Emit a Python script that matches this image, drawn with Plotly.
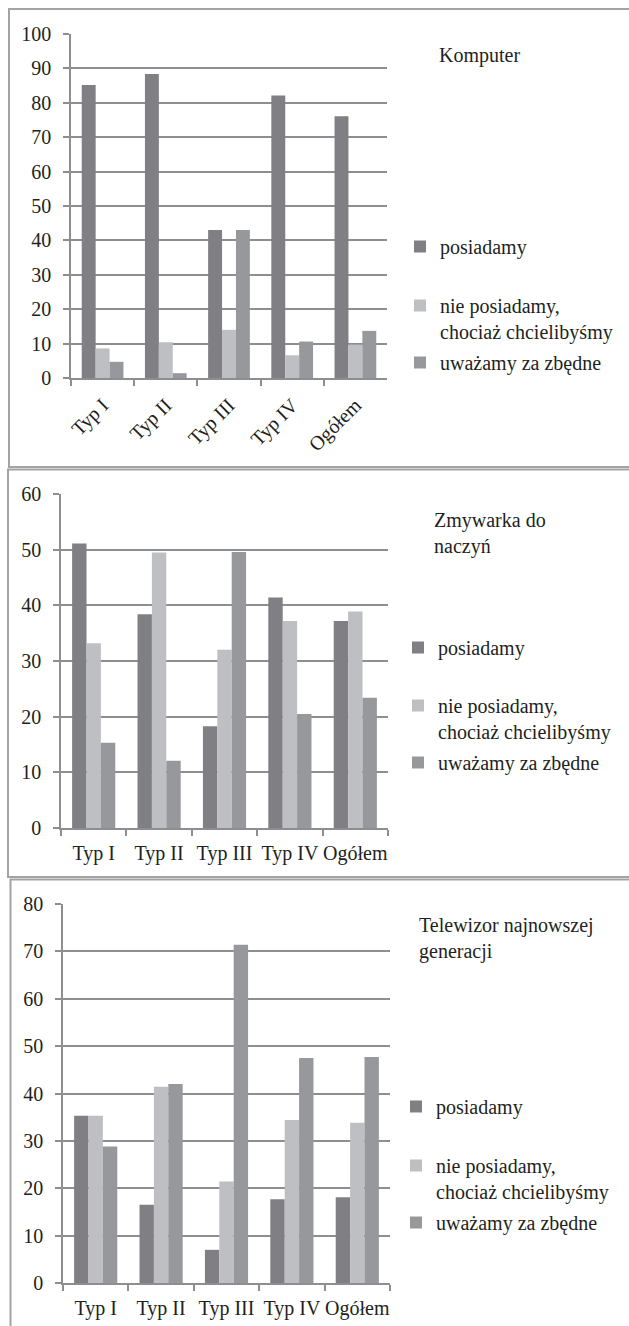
import plotly.graph_objects as go

W, H = 629, 1326

categories = ["Typ I", "Typ II", "Typ III", "Typ IV", "Ogółem"]
series_names = ["posiadamy", "nie posiadamy,<br>chociaż chcielibyśmy", "uważamy za zbędne"]
series_colors = ["#7f7f84", "#bebfc3", "#97989c"]

# Komputer
komp_posiadamy = [85.2, 88.4, 43.0, 82.1, 76.1]
komp_nie = [8.6, 10.4, 14.0, 6.6, 9.7]
komp_zbedne = [4.7, 1.4, 43.0, 10.6, 13.7]

# Zmywarka do naczyń
zmyw_posiadamy = [51.1, 38.4, 18.3, 41.4, 37.2]
zmyw_nie = [33.2, 49.5, 32.0, 37.2, 38.9]
zmyw_zbedne = [15.3, 12.1, 49.6, 20.5, 23.4]

# Telewizor najnowszej generacji
tv_posiadamy = [35.3, 16.5, 7.0, 17.7, 18.1]
tv_nie = [35.3, 41.4, 21.4, 34.4, 33.8]
tv_zbedne = [28.8, 42.0, 71.4, 47.5, 47.7]

titles = ["Komputer", "Zmywarka do<br>naczyń", "Telewizor najnowszej<br>generacji"]
y_max = [100, 60, 80]
y_dtick = [10, 10, 10]

panels_data = [
    [komp_posiadamy, komp_nie, komp_zbedne],
    [zmyw_posiadamy, zmyw_nie, zmyw_zbedne],
    [tv_posiadamy, tv_nie, tv_zbedne],
]


def px(x):
    return x / W


def py(y):
    return 1 - y / H


FONT = "Liberation Serif"
TXT = "#231f20"
GRID = "#8e8e92"

# layout geometry (pixels)
plot_boxes = [  # left, right, top, bottom
    (71, 387, 34, 378),
    (61, 388, 494, 828),
    (63, 390, 904, 1283),
]
frames = [  # left, top, bottom
    (9, 9, 467),
    (8, 469.5, 877),
    (10.5, 879.5, 1340),
]
title_pos = [(437, 55), (432, 520), (417, 925)]
legend_x = [440, 438, 436]
legend_y = [  # text centre (first line) of each entry
    (247, 307, 363),
    (648, 707, 763),
    (1107, 1167, 1223),
]
tickangles = [-45, 0, 0]
standoff_x = [6, 6, 6]

fig = go.Figure()
layout = dict(
    width=W, height=H,
    margin=dict(l=0, r=0, t=0, b=0, autoexpand=False),
    paper_bgcolor="white", plot_bgcolor="white",
    barmode="group", bargap=0.34, bargroupgap=0,
    font=dict(family=FONT, size=20, color=TXT),
    shapes=[], annotations=[],
)

leg_idx = 0
for p in range(3):
    xa = "x" if p == 0 else f"x{p+1}"
    ya = "y" if p == 0 else f"y{p+1}"
    for s in range(3):
        leg_idx += 1
        legname = "legend" if leg_idx == 1 else f"legend{leg_idx}"
        fig.add_trace(go.Bar(
            x=categories, y=panels_data[p][s], name=series_names[s],
            marker=dict(color=series_colors[s], line=dict(width=0)),
            xaxis=xa, yaxis=ya, legend=legname, showlegend=True,
        ))
        lines = series_names[s].count("<br>") + 1
        top = legend_y[p][s] - (20 if lines == 1 else 21)
        layout[legname] = dict(
            x=px(legend_x[p] - 40), y=py(top), xanchor="left", yanchor="top",
            bgcolor="rgba(0,0,0,0)", borderwidth=0,
            font=dict(family=FONT, size=20, color=TXT),
            valign="top", itemclick=False, itemdoubleclick=False,
        )
    l, r, t, b = plot_boxes[p]
    xkey = "xaxis" if p == 0 else f"xaxis{p+1}"
    ykey = "yaxis" if p == 0 else f"yaxis{p+1}"
    layout[xkey] = dict(
        domain=[px(l), px(r)], anchor=ya, automargin=False,
        type="category", categoryorder="array", categoryarray=categories,
        showline=True, linecolor=GRID, linewidth=1.5,
        ticks="outside", tickson="boundaries", ticklen=6, tickcolor=GRID, tickwidth=1.5,
        tickangle=tickangles[p], ticklabelstandoff=standoff_x[p],
        showgrid=False, zeroline=False,
        tickfont=dict(family=FONT, size=20, color=TXT),
    )
    layout[ykey] = dict(
        domain=[py(b), py(t)], anchor=xa, automargin=False,
        range=[0, y_max[p]], dtick=y_dtick[p], tick0=0,
        showline=True, linecolor=GRID, linewidth=1.5,
        ticks="outside", ticklen=6, tickcolor=GRID, tickwidth=1.5,
        showgrid=True, gridcolor=GRID, gridwidth=1.5,
        zeroline=False, ticklabelstandoff=8,
        tickfont=dict(family=FONT, size=20, color=TXT),
    )
    fl, ft, fb = frames[p]
    layout["shapes"].append(dict(
        type="rect", xref="paper", yref="paper",
        x0=px(fl), x1=px(W + 20), y0=py(fb), y1=py(ft),
        line=dict(color="#a3a3a6", width=2), fillcolor="rgba(0,0,0,0)", layer="below",
    ))
    tx, ty = title_pos[p]
    layout["annotations"].append(dict(
        text=titles[p], xref="paper", yref="paper",
        x=px(tx), y=py(ty - 13), xanchor="left", yanchor="top", align="left",
        showarrow=False, font=dict(family=FONT, size=20, color=TXT),
    ))

fig.update_layout(**layout)
fig.write_html("out.html")
